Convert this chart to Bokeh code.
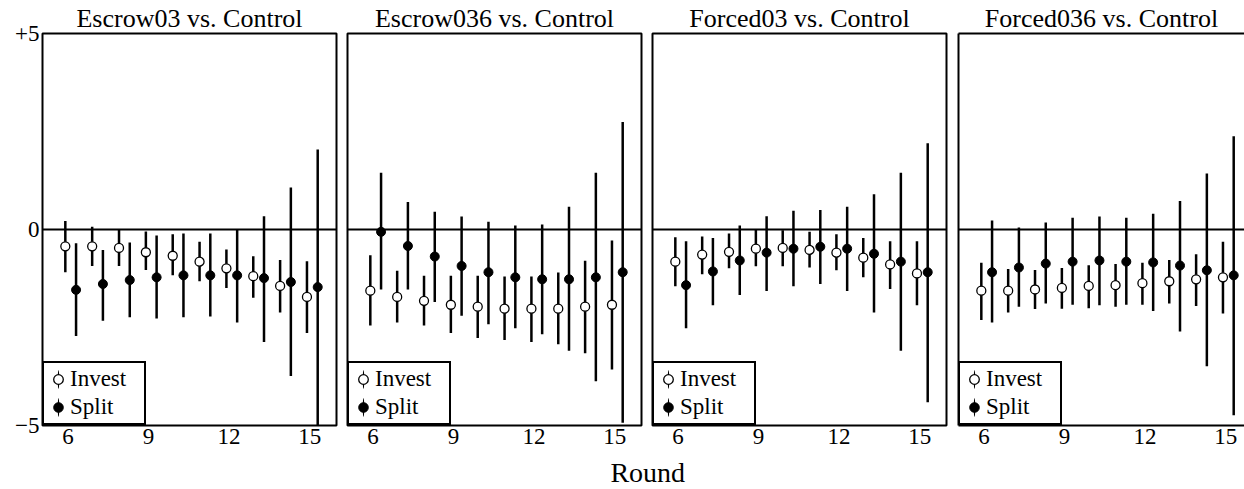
from bokeh.plotting import figure
from bokeh.models import (Range1d, FixedTicker, Span, Legend, LegendItem,
                          LinearAxis, Label, ColumnDataSource)
from bokeh.layouts import row, column
from bokeh.transform import dodge
from bokeh.embed import file_html
from bokeh.resources import INLINE

FONT = "Liberation Serif"

rounds = [6, 7, 8, 9, 10, 11, 12, 13, 14, 15]
x_ticks = [6, 9, 12, 15]
y_ticks = [-5, 0, 5]
y_tick_labels = {5: "+5", 0: "0", -5: "\u22125"}
titles = ["Escrow03 vs. Control", "Escrow036 vs. Control",
          "Forced03 vs. Control", "Forced036 vs. Control"]
legend_labels = ["Invest", "Split"]
x_label = "Round"

# Escrow03
e03_inv_mean = [-0.43, -0.43, -0.47, -0.58, -0.67, -0.82, -0.99, -1.19, -1.44, -1.72]
e03_inv_lo = [-1.09, -0.93, -0.93, -1.03, -1.17, -1.32, -1.49, -1.74, -2.12, -2.64]
e03_inv_hi = [0.22, 0.07, 0.00, -0.05, -0.12, -0.31, -0.51, -0.68, -0.78, -0.81]
e03_spl_mean = [-1.54, -1.39, -1.29, -1.22, -1.17, -1.17, -1.17, -1.24, -1.34, -1.47]
e03_spl_lo = [-2.72, -2.33, -2.24, -2.27, -2.24, -2.22, -2.37, -2.87, -3.74, -5.00]
e03_spl_hi = [-0.35, -0.52, -0.33, -0.15, -0.10, -0.10, 0.00, 0.34, 1.07, 2.04]

# Escrow036
e036_inv_mean = [-1.56, -1.72, -1.82, -1.92, -1.97, -2.02, -2.02, -2.02, -1.97, -1.92]
e036_inv_lo = [-2.45, -2.37, -2.45, -2.64, -2.77, -2.82, -2.87, -2.93, -3.16, -3.57]
e036_inv_hi = [-0.66, -1.05, -1.18, -1.18, -1.18, -1.20, -1.20, -1.10, -0.80, -0.28]
e036_spl_mean = [-0.06, -0.42, -0.69, -0.93, -1.09, -1.22, -1.27, -1.27, -1.22, -1.09]
e036_spl_lo = [-1.53, -1.53, -1.85, -2.20, -2.42, -2.52, -2.67, -3.09, -3.87, -4.93]
e036_spl_hi = [1.45, 0.70, 0.45, 0.33, 0.20, 0.10, 0.13, 0.58, 1.45, 2.74]

# Forced03
f03_inv_mean = [-0.82, -0.64, -0.57, -0.49, -0.47, -0.52, -0.59, -0.72, -0.89, -1.12]
f03_inv_lo = [-1.45, -1.14, -0.99, -0.94, -0.94, -0.97, -1.04, -1.22, -1.52, -1.93]
f03_inv_hi = [-0.20, -0.18, -0.10, -0.01, -0.02, -0.06, -0.12, -0.22, -0.30, -0.30]
f03_spl_mean = [-1.42, -1.07, -0.79, -0.59, -0.49, -0.44, -0.49, -0.62, -0.82, -1.09]
f03_spl_lo = [-2.52, -1.93, -1.67, -1.57, -1.45, -1.39, -1.57, -2.12, -3.09, -4.41]
f03_spl_hi = [-0.30, -0.22, 0.10, 0.34, 0.48, 0.50, 0.58, 0.90, 1.45, 2.20]

# Forced036
f036_inv_mean = [-1.56, -1.56, -1.53, -1.49, -1.44, -1.42, -1.37, -1.32, -1.27, -1.22]
f036_inv_lo = [-2.31, -2.12, -2.03, -2.02, -2.01, -1.97, -1.92, -1.89, -1.95, -2.14]
f036_inv_hi = [-0.85, -1.01, -1.03, -0.98, -0.91, -0.88, -0.85, -0.78, -0.63, -0.31]
f036_spl_mean = [-1.09, -0.97, -0.87, -0.82, -0.79, -0.82, -0.84, -0.92, -1.04, -1.17]
f036_spl_lo = [-2.37, -1.97, -1.89, -1.92, -1.93, -1.92, -2.08, -2.60, -3.49, -4.74]
f036_spl_hi = [0.23, 0.05, 0.18, 0.30, 0.33, 0.30, 0.40, 0.73, 1.43, 2.38]

panels = [
    (e03_inv_mean, e03_inv_lo, e03_inv_hi, e03_spl_mean, e03_spl_lo, e03_spl_hi),
    (e036_inv_mean, e036_inv_lo, e036_inv_hi, e036_spl_mean, e036_spl_lo, e036_spl_hi),
    (f03_inv_mean, f03_inv_lo, f03_inv_hi, f03_spl_mean, f03_spl_lo, f03_spl_hi),
    (f036_inv_mean, f036_inv_lo, f036_inv_hi, f036_spl_mean, f036_spl_lo, f036_spl_hi),
]

X_START = 5.05
PX_PER_ROUND = 294 / (16.0 - X_START)
ROW_H = 456
LAB_H = 32
TOP_B = 32
BOTTOM_B = 31
borders = [(42, 5), (6, 5), (6, 6), (6, 0)]
frame_ws = [294, 294, 294, 286]


def make_panel(idx):
    inv_m, inv_lo, inv_hi, spl_m, spl_lo, spl_hi = panels[idx]
    first = idx == 0
    last = idx == 3
    fw = frame_ws[idx]
    bl, br = borders[idx]
    x_end = X_START + fw / PX_PER_ROUND
    p = figure(width=bl + fw + br, height=ROW_H,
               x_range=Range1d(X_START, x_end), y_range=Range1d(-5, 5),
               output_backend="svg", toolbar_location=None,
               min_border_left=bl, min_border_right=br,
               min_border_top=TOP_B, min_border_bottom=BOTTOM_B,
               y_axis_location="left" if (first or last) else None,
               title=titles[idx])
    p.xgrid.visible = False
    p.ygrid.visible = False
    p.background_fill_color = "white"
    p.border_fill_color = "white"
    p.title.text_font = FONT
    p.title.text_font_size = "26px"
    p.title.text_font_style = "normal"
    p.title.text_color = "black"
    p.title.align = "center"
    p.title.standoff = 2

    if last:
        p.outline_line_color = None
    else:
        p.outline_line_color = "black"
        p.outline_line_width = 2

    xa = p.xaxis[0]
    xa.ticker = FixedTicker(ticks=x_ticks)
    xa.major_tick_out = 0
    xa.major_tick_in = 0
    xa.minor_tick_line_color = None
    xa.major_tick_line_color = None
    xa.major_label_standoff = 3
    xa.major_label_text_font = FONT
    xa.major_label_text_font_size = "23px"
    xa.major_label_text_color = "black"
    if last:
        xa.axis_line_color = "black"
        xa.axis_line_width = 2
    else:
        xa.axis_line_color = None

    if first:
        ya = p.yaxis[0]
        ya.ticker = FixedTicker(ticks=y_ticks)
        ya.major_label_overrides = y_tick_labels
        ya.major_tick_out = 0
        ya.major_tick_in = 0
        ya.major_tick_line_color = None
        ya.minor_tick_line_color = None
        ya.axis_line_color = None
        ya.major_label_standoff = 3
        ya.major_label_text_font = FONT
        ya.major_label_text_font_size = "23px"
        ya.major_label_text_color = "black"
    if last:
        ya = p.yaxis[0]
        ya.ticker = FixedTicker(ticks=[])
        ya.major_tick_out = 0
        ya.major_tick_in = 0
        ya.minor_tick_out = 0
        ya.major_label_standoff = 0
        ya.axis_line_color = "black"
        ya.axis_line_width = 2
        top = LinearAxis(ticker=FixedTicker(ticks=[]), major_tick_out=0,
                         major_tick_in=0, minor_tick_out=0, major_label_standoff=0,
                         axis_line_color="black", axis_line_width=2)
        p.add_layout(top, "above")

    zero = Span(location=0, dimension="width", line_color="black",
                line_width=2, level="underlay")
    p.add_layout(zero)

    src = ColumnDataSource(dict(round=rounds, inv_m=inv_m, inv_lo=inv_lo,
                                inv_hi=inv_hi, spl_m=spl_m, spl_lo=spl_lo,
                                spl_hi=spl_hi))
    xi = dodge("round", -0.1, range=p.x_range)
    xs = dodge("round", 0.3, range=p.x_range)
    p.segment(x0=xi, y0="inv_lo", x1=xi, y1="inv_hi", source=src,
              line_color="black", line_width=2.5)
    p.segment(x0=xs, y0="spl_lo", x1=xs, y1="spl_hi", source=src,
              line_color="black", line_width=2.5)
    r_inv = p.scatter(x=xi, y="inv_m", source=src, marker="circle", size=9,
                      fill_color="white", line_color="black", line_width=1.3)
    r_spl = p.scatter(x=xs, y="spl_m", source=src, marker="circle", size=9,
                      fill_color="black", line_color="black", line_width=1)

    # helper glyph for the vertical stroke of the legend entries; it lies
    # outside the visible x range, so only the legend shows it
    bar = p.ellipse(x=[X_START - 50], y=[0], width=2.4, height=30,
                    width_units="screen", height_units="screen",
                    fill_color="black", line_color=None)

    legend = Legend(items=[LegendItem(label=legend_labels[0], renderers=[bar, r_inv]),
                           LegendItem(label=legend_labels[1], renderers=[bar, r_spl])],
                    location="bottom_left", margin=0, padding=2, spacing=0,
                    glyph_width=24, glyph_height=28, label_standoff=0,
                    label_width=72, label_text_font=FONT,
                    label_text_font_size="23px", label_text_color="black",
                    border_line_color="black", border_line_alpha=1,
                    border_line_width=2, background_fill_color="white",
                    background_fill_alpha=1)
    p.add_layout(legend)
    return p


figs = [make_panel(i) for i in range(4)]

lab = figure(width=sum(b[0] + b[1] for b in borders) + sum(frame_ws), height=LAB_H,
             x_range=Range1d(0, 1), y_range=Range1d(0, 1),
             output_backend="svg", toolbar_location=None, min_border=0,
             x_axis_location=None, y_axis_location=None)
lab.outline_line_color = None
lab.xgrid.visible = False
lab.ygrid.visible = False
lab.add_layout(Label(x=0.5203, y=0.5, text=x_label, text_font=FONT,
                     text_font_size="28px", text_align="center",
                     text_baseline="middle", text_color="black"))

layout = column(row(*figs), lab)
open("out.html", "w").write(file_html(layout, INLINE))
